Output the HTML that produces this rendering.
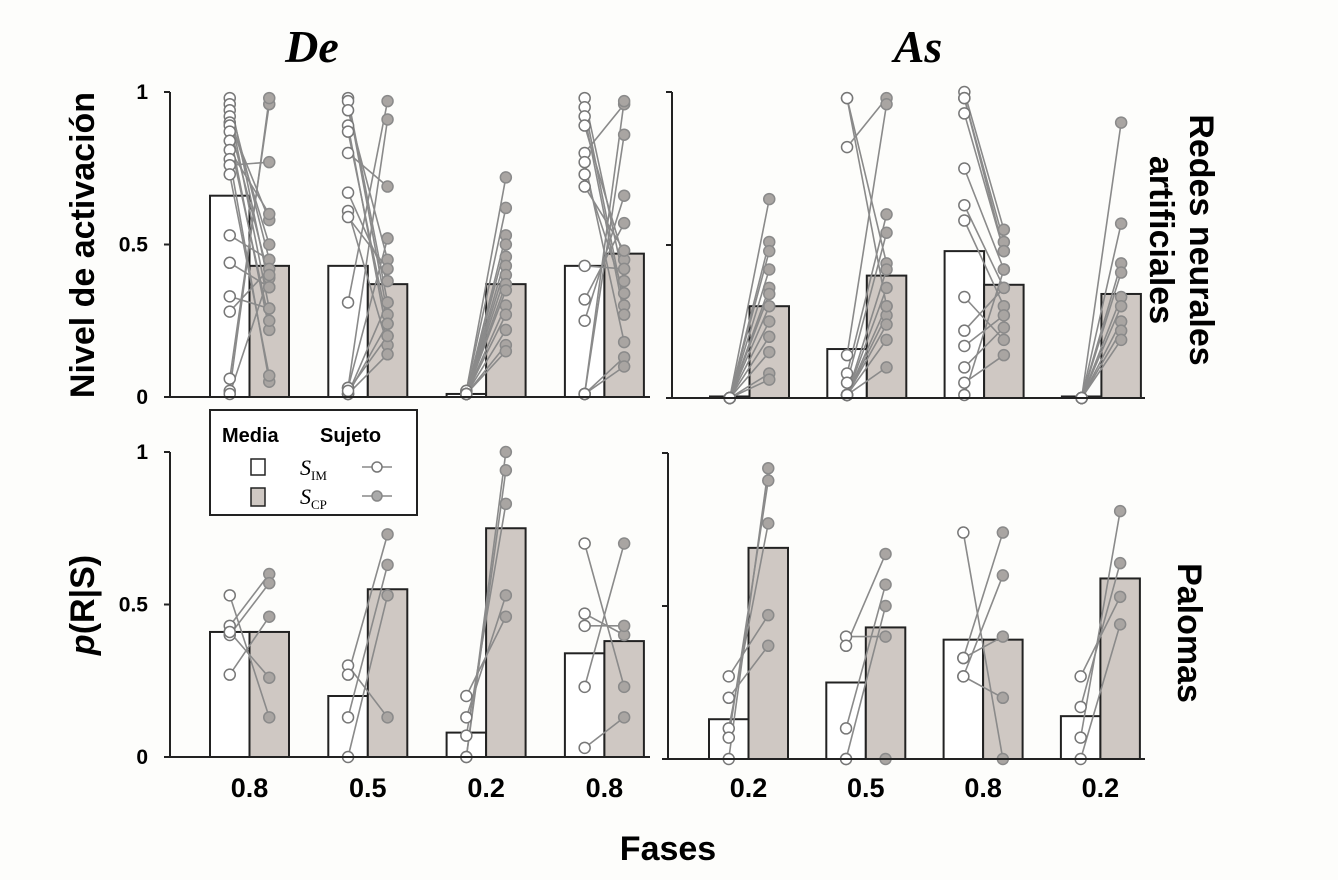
<!DOCTYPE html>
<html><head><meta charset="utf-8">
<style>
html,body{margin:0;padding:0;background:#fdfdfb;}
svg{display:block;}
text{font-family:"Liberation Sans",Arial,sans-serif;}
</style></head>
<body>
<svg id="chart" width="1338" height="880" viewBox="0 0 1338 880" xmlns="http://www.w3.org/2000/svg">
<rect width="1338" height="880" fill="#fdfdfb"/>
<text x="312" y="62" font-style="italic" font-weight="bold" font-size="46" text-anchor="middle" style="font-family:'Liberation Serif',serif">De</text>
<text x="918" y="62" font-style="italic" font-weight="bold" font-size="46" text-anchor="middle" style="font-family:'Liberation Serif',serif">As</text>
<text transform="translate(94,245) rotate(-90)" font-weight="bold" font-size="34" text-anchor="middle">Nivel de activación</text>
<text transform="translate(94,605) rotate(-90)" font-weight="bold" font-size="34" text-anchor="middle"><tspan font-style="italic">p</tspan>(R|S)</text>
<text transform="translate(1170,240) rotate(90)" font-weight="bold" font-size="34" text-anchor="middle"><tspan x="0" dy="-20">Redes neurales</tspan><tspan x="0" dy="40">artificiales</tspan></text>
<text transform="translate(1178,633) rotate(90)" font-weight="bold" font-size="34" text-anchor="middle">Palomas</text>
<text x="668" y="860" font-weight="bold" font-size="34" text-anchor="middle">Fases</text>
<g id="panels"></g>
<g>
<rect x="210" y="410" width="207" height="105" fill="#fff" stroke="#222" stroke-width="2"/>
<text x="222" y="442" font-weight="bold" font-size="20">Media</text>
<text x="320" y="442" font-weight="bold" font-size="20">Sujeto</text>
<rect x="251" y="459" width="14" height="16" fill="#fff" stroke="#222" stroke-width="1.5"/>
<text x="300" y="475" font-size="22" font-style="italic" style="font-family:'Liberation Serif',serif">S<tspan font-size="13" font-style="normal" dy="5">IM</tspan></text>
<g><line x1="362" y1="467" x2="392" y2="467" stroke="#888" stroke-width="1.5"/><circle cx="377" cy="467" r="5" fill="#fff" stroke="#777" stroke-width="1.5"/></g>
<rect x="251" y="488" width="14" height="18" fill="#cfc8c3" stroke="#222" stroke-width="1.5"/>
<text x="300" y="504" font-size="22" font-style="italic" style="font-family:'Liberation Serif',serif">S<tspan font-size="13" font-style="normal" dy="5">CP</tspan></text>
<g><line x1="362" y1="496" x2="392" y2="496" stroke="#888" stroke-width="1.5"/><circle cx="377" cy="496" r="5" fill="#aaa" stroke="#888" stroke-width="1.5"/></g>
</g>
</svg>
<script>
// ---- data ----
const phasesDe = ["0.8","0.5","0.2","0.8"];
const phasesAs = ["0.2","0.5","0.8","0.2"];
const yTicks = [0, 0.5, 1];
const yTickLabels = ["0","0.5","1"];
const meanImTL = [0.66,0.43,0.01,0.43];
const meanCpTL = [0.43,0.37,0.37,0.47];
const meanImTR = [0.005,0.16,0.48,0.005];
const meanCpTR = [0.30,0.40,0.37,0.34];
const meanImBL = [0.41,0.20,0.08,0.34];
const meanCpBL = [0.41,0.55,0.75,0.38];
const meanImBR = [0.13,0.25,0.39,0.14];
const meanCpBR = [0.69,0.43,0.39,0.59];
// subject pairs [S_IM, S_CP] per phase
const subjTL = [
 [[.98,.36],[.96,.45],[.94,.29],[.92,.50],[.90,.58],[.89,.39],[.87,.22],[.84,.25],[.81,.60],[.78,.05],[.76,.77],[.73,.07],[.53,.45],[.44,.36],[.33,.29],[.28,.42],[.06,.96],[.02,.98],[.01,.40]],
 [[.98,.31],[.97,.27],[.94,.45],[.89,.20],[.87,.24],[.80,.69],[.67,.38],[.61,.17],[.59,.42],[.31,.97],[.03,.91],[.03,.52],[.01,.14],[.01,.24],[.01,.31],[.02,.20]],
 [[.02,.72],[.02,.62],[.01,.53],[.01,.50],[.01,.46],[.01,.43],[.01,.40],[.01,.37],[.01,.35],[.01,.30],[.01,.27],[.01,.22],[.01,.17],[.01,.15]],
 [[.98,.38],[.95,.30],[.92,.27],[.89,.45],[.80,.96],[.77,.18],[.73,.34],[.69,.48],[.43,.42],[.32,.57],[.25,.66],[.01,.97],[.01,.86],[.01,.13],[.01,.10]]
];
const subjTR = [
 [[0,.65],[0,.51],[0,.48],[0,.42],[0,.36],[0,.34],[0,.30],[0,.25],[0,.20],[0,.15],[0,.08],[0,.06]],
 [[.98,.44],[.82,.98],[.14,.96],[.08,.60],[.05,.54],[.01,.42],[.01,.36],[.01,.30],[.01,.27],[.01,.24],[.01,.19],[.01,.10],[.98,.30]],
 [[1.0,.55],[.98,.51],[.93,.48],[.75,.42],[.63,.36],[.58,.30],[.33,.19],[.22,.36],[.17,.27],[.10,.23],[.05,.14],[.01,.42],[.98,.48]],
 [[0,.90],[0,.57],[0,.44],[0,.41],[0,.33],[0,.30],[0,.25],[0,.22],[0,.19]]
];
const subjBL = [
 [[.53,.13],[.43,.60],[.40,.57],[.27,.46],[.41,.26]],
 [[.30,.13],[.27,.73],[.13,.63],[0,.53]],
 [[.20,.46],[.13,.53],[.07,.83],[0,.94],[0,1.0]],
 [[.70,.23],[.47,.40],[.23,.70],[.03,.13],[.43,.43]]
];
const subjBR = [
 [[.27,.47],[.20,.37],[.10,.77],[.07,.91],[0,.95]],
 [[.40,.40],[.37,.67],[.10,.57],[0,.50],[0,0]],
 [[.74,0],[.33,.74],[.27,.60],[.33,.40],[.27,.20]],
 [[.27,.53],[.17,.64],[.07,.81],[0,.44]]
];
// ---- layout ----
const panels = [
 {id:"top-left", axisX:170, x0:210, step:118.3, bw:39.5, y0:397, y1:92, im:meanImTL, cp:meanCpTL, subj:subjTL, labels:null, baseEnd:650},
 {id:"top-right", axisX:672, x0:710, step:117.3, bw:39.5, y0:398, y1:92, im:meanImTR, cp:meanCpTR, subj:subjTR, labels:null, baseEnd:1145},
 {id:"bottom-left", axisX:170, x0:210, step:118.3, bw:39.5, y0:757, y1:452, im:meanImBL, cp:meanCpBL, subj:subjBL, labels:phasesDe, baseEnd:650},
 {id:"bottom-right", axisX:668, x0:709, step:117.3, bw:39.5, y0:759, y1:453, im:meanImBR, cp:meanCpBR, subj:subjBR, labels:phasesAs, baseEnd:1145}
];
const NS="http://www.w3.org/2000/svg";
const root=document.getElementById("panels");
function mk(tag,attrs,parent){const e=document.createElementNS(NS,tag);for(const k in attrs)e.setAttribute(k,attrs[k]);parent.appendChild(e);return e;}
panels.forEach(p=>{
 const g=mk("g",{},root);
 
 
 const yS=v=>p.y0-(p.y0-p.y1)*v;
 const xIm=i=>p.x0+i*p.step;
 const xCp=i=>p.x0+i*p.step+p.bw;
 p.im.forEach((v,i)=>{
  const r=mk("rect",{x:xIm(i),y:yS(v),width:p.bw,height:p.y0-yS(v),fill:"#fff",stroke:"#222","stroke-width":2},g);
  
  
 });
 p.cp.forEach((v,i)=>{
  const r=mk("rect",{x:xCp(i),y:yS(v),width:p.bw,height:p.y0-yS(v),fill:"#cfc8c3",stroke:"#222","stroke-width":2},g);
  
  
 });
 p.subj.forEach((grp,i)=>{
  const cxA=xIm(i)+p.bw/2, cxB=xCp(i)+p.bw/2;
  grp.forEach(pr=>{
   const l=mk("line",{x1:cxA,y1:yS(pr[0]),x2:cxB,y2:yS(pr[1]),stroke:"#8a8a8a","stroke-width":1.6},g);
   
   
  });
  grp.forEach(pr=>{
   const c=mk("circle",{cx:cxB,cy:yS(pr[1]),r:5.5,fill:"#a9a5a2",stroke:"#8a8a8a","stroke-width":1.5},g);
   
   
  });
  grp.forEach(pr=>{
   const c=mk("circle",{cx:cxA,cy:yS(pr[0]),r:5.5,fill:"#fff",stroke:"#777","stroke-width":1.5},g);
   
   
  });
 });
 const ya=mk("line",{x1:p.axisX,y1:yS(1),x2:p.axisX,y2:p.y0,stroke:"#222","stroke-width":2},g);
 
 
 const xa=mk("line",{x1:p.axisX,y1:p.y0,x2:p.baseEnd,y2:p.y0,stroke:"#222","stroke-width":2},g);
 
 
 yTicks.forEach((t,i)=>{
  const tk=mk("line",{x1:p.axisX-6,y1:yS(t),x2:p.axisX,y2:yS(t),stroke:"#222","stroke-width":2},g);
  
  
  if(p.axisX<300){
   const tx=mk("text",{x:p.axisX-22,y:yS(t)+7,"text-anchor":"end","font-size":21,"font-weight":"bold"},g);
   tx.textContent=yTickLabels[i];
   
   
  }
 });
 if(p.labels){
  p.labels.forEach((lab,i)=>{
   const tx=mk("text",{x:xIm(i)+p.bw,y:797,"text-anchor":"middle","font-size":27,"font-weight":"bold"},g);
   tx.textContent=lab;
   
   
  });
 }
});
</script>
</body></html>
